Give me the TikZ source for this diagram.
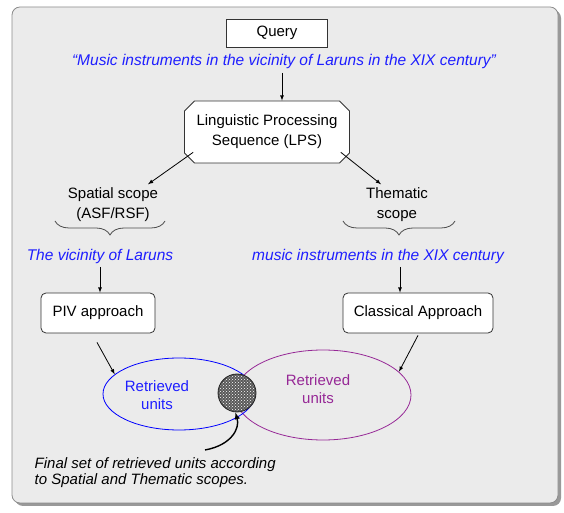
\documentclass[tikz,border=0pt]{standalone}
\usepackage{fontspec}
\setmainfont{Liberation Sans}
\usetikzlibrary{positioning,shapes.misc,shapes.geometric,patterns,decorations.pathreplacing}
\definecolor{panelgray}{RGB}{235,235,235}
\definecolor{qblue}{RGB}{30,30,255}
\definecolor{rpurple}{RGB}{150,40,150}
\tikzset{
  box/.style={draw=black!80,fill=white,inner sep=5pt,font=\fontsize{15}{20}\selectfont},
  query/.style={text=qblue,font=\fontsize{15.5}{18}\selectfont\itshape},
  plain/.style={align=center,font=\fontsize{15}{20}\selectfont},
  scopebrace/.style={draw=black!70,decorate,decoration={brace,mirror,amplitude=14pt}},
}
\begin{document}
\begin{tikzpicture}[x=1pt,y=1pt,>=latex,thick]
\useasboundingbox (0,0) rectangle (564,513);
% panel with its shadow
\fill[black!40,rounded corners=8pt] (15,7) rectangle (561,503);
\draw[black!45,fill=panelgray,rounded corners=8pt] (12,10) rectangle (558,506);

\node [box,minimum width=101pt,minimum height=28pt] (query) at (277,480) {Query};
\node [query] (sentence) at (284,451) {``Music instruments in the vicinity of Laruns in the XIX century''};
\node [box,chamfered rectangle,chamfered rectangle xsep=5pt,chamfered rectangle ysep=5pt,
  minimum width=165pt,minimum height=62pt,align=center,inner sep=3pt] (lps) at (267,381)
  {Linguistic Processing\\Sequence (LPS)};
\node [plain] (spatial) at (113,308) {Spatial scope\\(ASF/RSF)};
\node [plain] (thematic) at (397,308) {Thematic\\scope};
\node [query] (vicinity) at (100,257) {The vicinity of Laruns};
\node [query] (music) at (378,257) {music instruments in the XIX century};
\node [box,rounded corners=5pt,minimum width=114pt,minimum height=40pt] (piv) at (98,200) {PIV approach};
\node [box,rounded corners=5pt,minimum width=150pt,minimum height=40pt] (classical) at (418,200) {Classical Approach};

% retrieved sets
\node [ellipse,draw=rpurple,minimum width=176pt,minimum height=90pt] (thematicset) at (323,118) {};
\node [ellipse,draw=blue,minimum width=152pt,minimum height=72pt] (spatialset) at (179,119) {};
\node [plain,text=qblue,font=\fontsize{15}{18}\selectfont] (spatialunits) at (157,118) {Retrieved\\units};
\node [plain,text=rpurple,font=\fontsize{15}{18}\selectfont] (thematicunits) at (318,124) {Retrieved\\units};
\node [circle,draw=black!85,fill=black!65,minimum size=38pt,inner sep=0pt] (final) at (237,120) {};
\fill[pattern=crosshatch dots,pattern color=white] (final) circle (18pt);
\node [font=\fontsize{15}{16}\selectfont\itshape,align=left,anchor=north west] (finaltext) at (31,59)
  {Final set of retrieved units according\\ to Spatial and Thematic scopes.};

\draw[scopebrace] (55,292) -- (165,292);
\draw[scopebrace] (343,292) -- (455,292);

\draw[->] ([xshift=15pt]lps.north |- sentence.south) -- ([xshift=15pt]lps.north);
\draw[->] ([shift={(4pt,6pt)}]lps.south west) -- ([xshift=35pt]spatial.north);
\draw[->] ([shift={(-4pt,6pt)}]lps.south east) -- ([xshift=-16pt]thematic.north);
\draw[->] (vicinity.south) -- (vicinity.south |- piv.north);
\draw[->] ([xshift=-18pt]classical.north |- music.south) -- ([xshift=-18pt]classical.north);
\draw[->] ([shift={(-1pt,-9pt)}]piv.south) -- (spatialset.163);
\draw[->] ([shift={(0pt,-2pt)}]classical.south) -- (thematicset.17);
\draw[->,line width=1.4pt] (205,63) .. controls (232,68) and (240,85) .. (final.265);
\end{tikzpicture}
\end{document}
